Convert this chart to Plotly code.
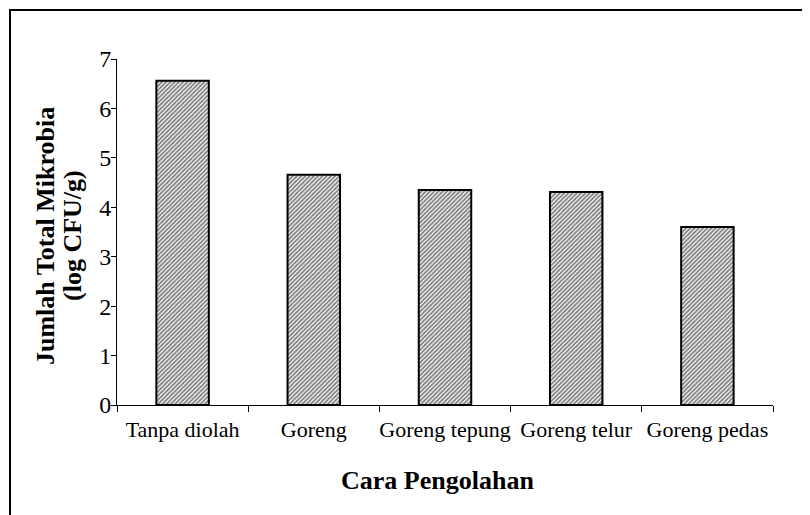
import plotly.graph_objects as go

categories = ["Tanpa diolah", "Goreng", "Goreng tepung", "Goreng telur", "Goreng pedas"]
values = [6.56, 4.66, 4.35, 4.31, 3.60]
y_ticks = [0, 1, 2, 3, 4, 5, 6, 7]

FONT = "Liberation Serif, Times New Roman, serif"

fig = go.Figure(go.Bar(
    x=categories,
    y=values,
    width=0.4,
    marker=dict(
        color="white",
        line=dict(color="black", width=2),
        pattern=dict(shape="/", size=3, solidity=0.6, fgcolor="black", bgcolor="white"),
    ),
))

# page body has an 8px default margin, so positions below are shifted by 8px
OFF = 8
W, H = 810, 515
L, R, T, B = 117 - OFF, 810 - 773 + OFF, 59 - OFF, 515 - 405 + OFF
pw, ph = W - L - R, H - T - B

def px_x(p):
    return (p - OFF - L) / pw

def px_y(p):
    return (H - B - (p - OFF)) / ph

fig.add_shape(type="rect", xref="paper", yref="paper",
              x0=px_x(10), x1=px_x(840), y0=px_y(540), y1=px_y(10),
              line=dict(color="black", width=2), fillcolor="rgba(0,0,0,0)")

fig.add_annotation(xref="paper", yref="paper", x=px_x(45), y=px_y(236),
                   text="<b>Jumlah Total Mikrobia</b>", textangle=-90, showarrow=False,
                   xanchor="center", yanchor="middle",
                   font=dict(family=FONT, size=26, color="black"))
fig.add_annotation(xref="paper", yref="paper", x=px_x(72), y=px_y(236),
                   text="<b>(log CFU/g)</b>", textangle=-90, showarrow=False,
                   xanchor="center", yanchor="middle",
                   font=dict(family=FONT, size=26, color="black"))
fig.add_annotation(xref="paper", yref="paper", x=px_x(437.5), y=px_y(480),
                   text="<b>Cara Pengolahan</b>", showarrow=False,
                   xanchor="center", yanchor="middle",
                   font=dict(family=FONT, size=26, color="black"))

fig.update_layout(
    width=W, height=H,
    margin=dict(l=L, r=R, t=T, b=B, autoexpand=False),
    paper_bgcolor="white", plot_bgcolor="white",
    font=dict(family=FONT, size=22, color="black"),
    showlegend=False,
    bargap=0.6,
)
fig.update_xaxes(
    showline=True, linecolor="black", linewidth=1,
    ticks="outside", tickson="boundaries", ticklen=6, tickcolor="black",
    showgrid=False, zeroline=False, tickangle=0, ticklabelstandoff=5,
    tickfont=dict(family=FONT, size=22),
    automargin=False,
)
fig.update_yaxes(
    range=[0, 7], tickvals=y_ticks,
    showline=True, linecolor="black", linewidth=1,
    ticks="outside", ticklen=5, tickcolor="black",
    showgrid=False, zeroline=False, ticklabelstandoff=-5,
    tickfont=dict(family=FONT, size=24),
    automargin=False,
)

fig.write_html("out.html")
